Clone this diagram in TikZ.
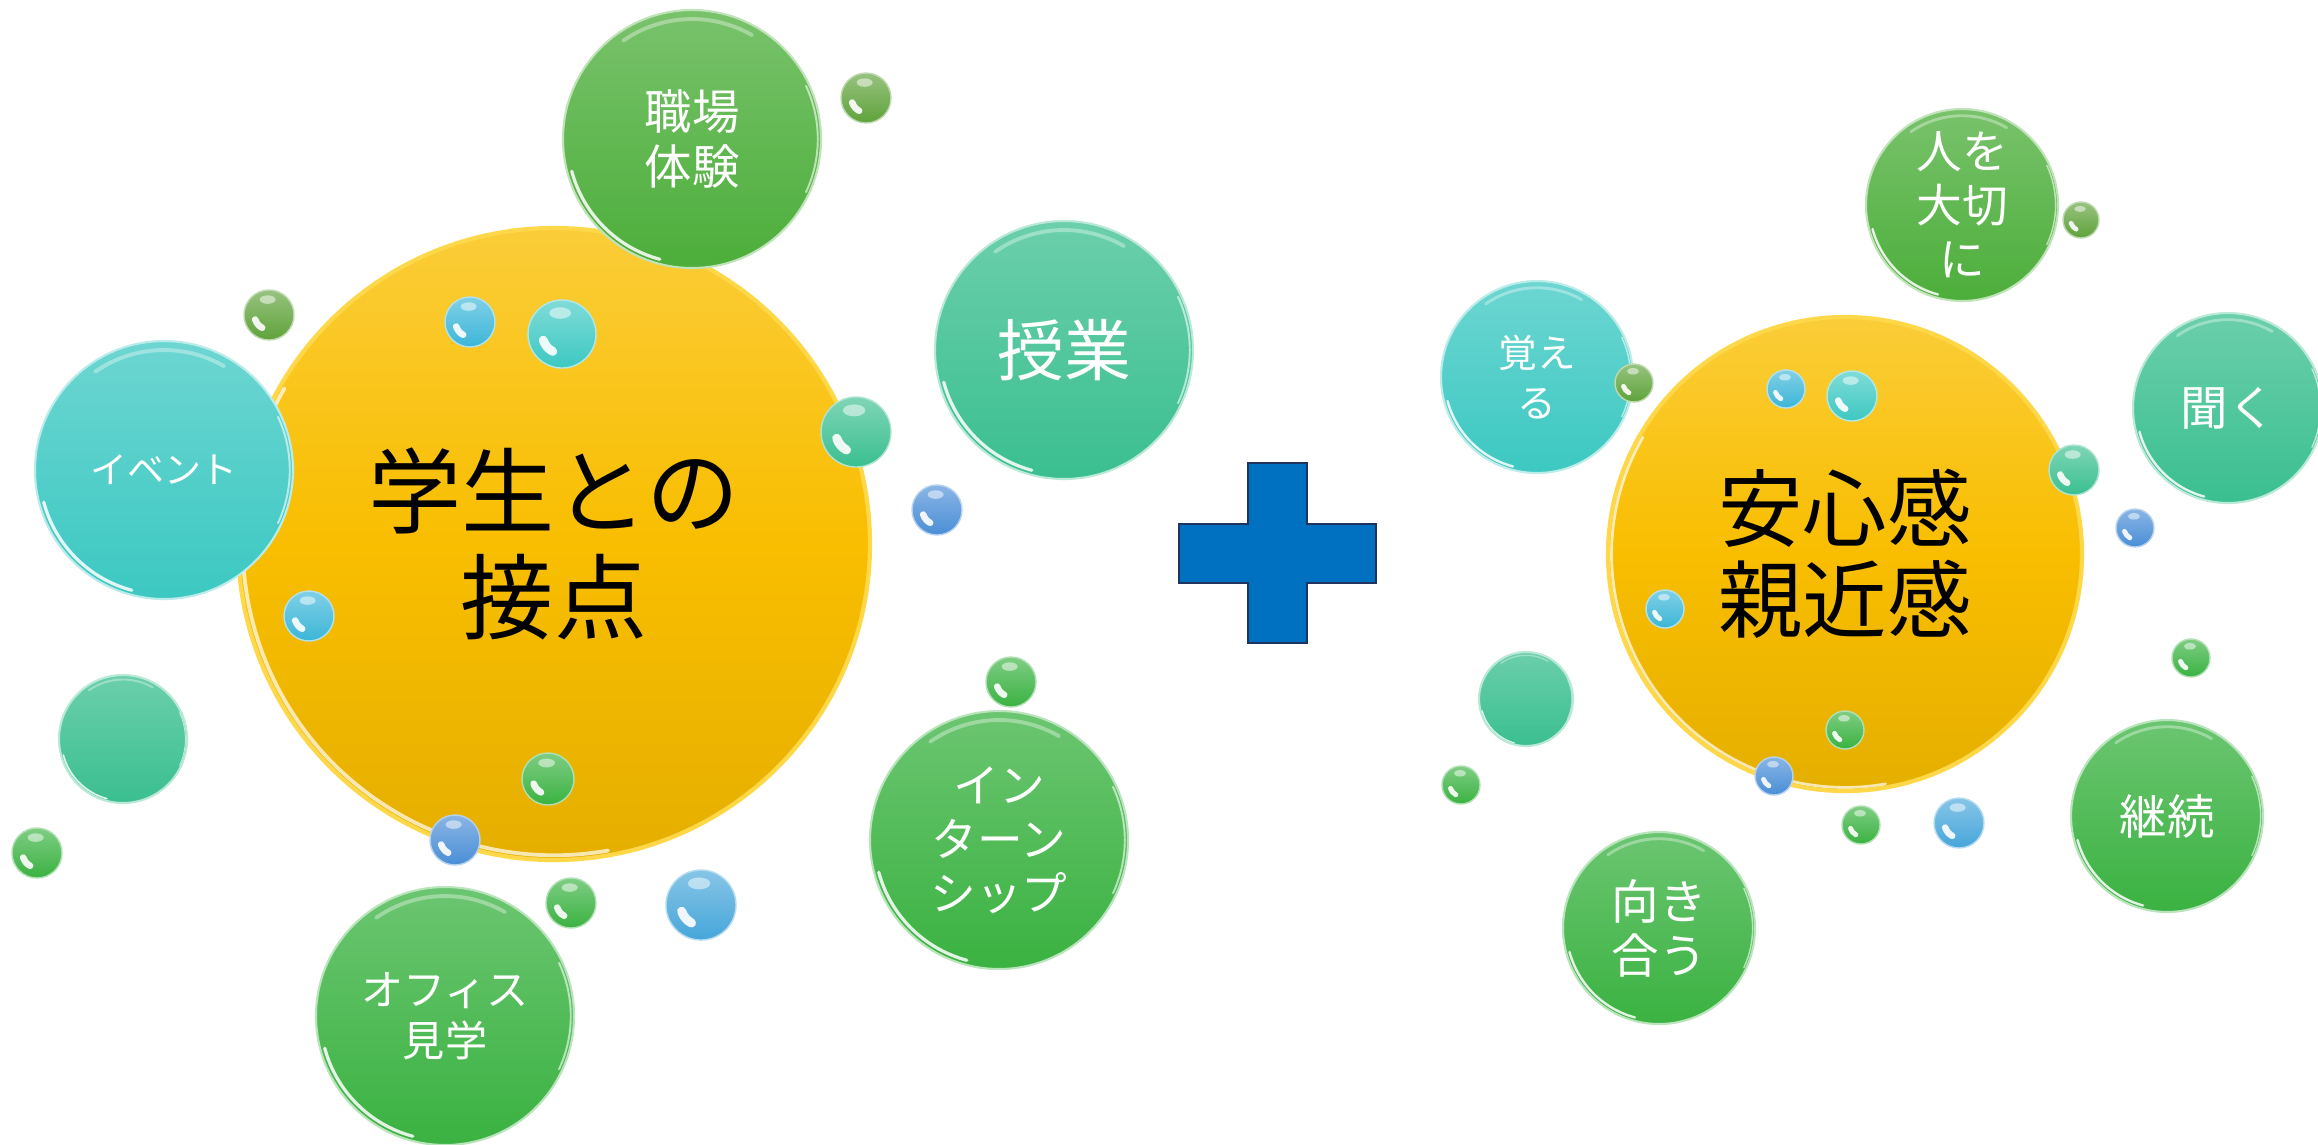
\documentclass[tikz,border=0pt]{standalone}
\usepackage{fontspec}
\newfontfamily\jp{Noto Sans CJK JP}
\usetikzlibrary{calc}
\definecolor{gold}{HTML}{F9BE00}
\definecolor{goldrim}{HTML}{FFD84A}
\definecolor{grn}{HTML}{3AB241}
\definecolor{leaf}{HTML}{4CAE3A}
\definecolor{teal}{HTML}{3CC8C2}
\definecolor{mint}{HTML}{3ABF90}
\definecolor{olive}{HTML}{5FA23A}
\definecolor{blu}{HTML}{4A8ED6}
\definecolor{cyan}{HTML}{3CB6D8}
\definecolor{sky}{HTML}{46A6DA}
\definecolor{plusblue}{HTML}{0070C0}
\definecolor{navy}{HTML}{1F3460}

\begin{document}
\begin{tikzpicture}[x=0.01cm, y=-0.01cm,
    shell/.style 2 args={circle, inner sep=0pt, align=center, text=white,
      minimum size={2*#2*0.01cm}, draw=#1!35!white, line width=0.6pt,
      top color=#1!75!white, bottom color=#1,
      path picture={
        \draw[white, opacity=.35, line width={#2*0.03*0.01cm}, line cap=round]
          ($(path picture bounding box.center)+(60:{#2*0.93*0.01cm})$)
          arc[start angle=60, end angle=125, radius={#2*0.93*0.01cm}];
        \draw[white, opacity=.6, line width={#2*0.015*0.01cm}, line cap=round]
          ($(path picture bounding box.center)+(-25:{#2*0.975*0.01cm})$)
          arc[start angle=-25, end angle=25, radius={#2*0.975*0.01cm}];
        \draw[white, opacity=.85, line width={#2*0.025*0.01cm}, line cap=round]
          ($(path picture bounding box.center)+(195:{#2*0.965*0.01cm})$)
          arc[start angle=195, end angle=255, radius={#2*0.965*0.01cm}];}},
    spot/.style 2 args={circle, inner sep=0pt, minimum size={2*#2*0.01cm},
      draw=#1!40!white, line width=0.4pt, top color=#1!65!white, bottom color=#1,
      path picture={
        \fill[white, opacity=.5] ($(path picture bounding box.center)+(95:{#2*0.62*0.01cm})$)
          ellipse[x radius={#2*0.32*0.01cm}, y radius={#2*0.17*0.01cm}];
        \draw[white, opacity=.9, line width={#2*0.26*0.01cm}, line cap=round]
          ($(path picture bounding box.center)+(198:{#2*0.58*0.01cm})$)
          arc[start angle=198, end angle=242, radius={#2*0.58*0.01cm}];}},
    sun/.style={circle, inner sep=0pt, align=center, text=black,
      minimum size={2*#1*0.01cm}, draw=goldrim, line width=1.2pt,
      top color=gold!78!white, bottom color=gold!92!black, middle color=gold,
      path picture={
        \draw[white, opacity=.7, line width={#1*0.012*0.01cm}, line cap=round]
          ($(path picture bounding box.center)+(150:{#1*0.985*0.01cm})$)
          arc[start angle=150, end angle=280, radius={#1*0.985*0.01cm}];}}]
\useasboundingbox (0,0) rectangle (2318,1144);

% left cluster
\node[sun=316, font=\jp\fontsize{26.5}{30}\selectfont] (contact) at (554,544) {学生との\\接点};
\node[shell={leaf}{129}, font=\jp\fontsize{13.5}{15.6}\selectfont] (shokuba) at (692,139) {職場\\体験};
\node[shell={mint}{129}, font=\jp\fontsize{19}{22}\selectfont] (jugyo) at (1064,350) {授業};
\node[shell={teal}{129}, font=\jp\fontsize{10.5}{13}\selectfont] (event) at (164,470) {イベント};
\node[shell={grn}{129}, font=\jp\fontsize{13}{15.4}\selectfont] (intern) at (999,840) {イン\\ターン\\シップ};
\node[shell={grn}{129}, font=\jp\fontsize{12}{14.5}\selectfont] (office) at (445,1016) {オフィス\\見学};
\node[shell={mint}{64}] (lmid) at (123,739) {};
\foreach \x/\y/\r/\col [count=\i] in {269/315/25/olive, 470/322/25/cyan, 562/334/34/teal,
    856/432/35/mint, 937/510/25/blu, 309/616/25/cyan, 548/779/26/grn, 455/840/25/blu,
    571/903/25/grn, 701/905/35/sky, 1011/682/25/grn, 37/853/25/grn, 866/98/25/olive}
  \node[spot={\col}{\r}] (l\i) at (\x,\y) {};

% plus
\draw[fill=plusblue, draw=navy, line width=0.6pt] (1248,463) -| (1307,524) -| (1376,583)
  -| (1307,643) -| (1248,583) -| (1179,524) -| (1248,524) -- cycle;

% right cluster
\node[sun=237, font=\jp\fontsize{24}{26}\selectfont] (trust) at (1845,554) {安心感\\親近感};
\node[shell={leaf}{96}, font=\jp\fontsize{13}{15.4}\selectfont] (taisetsu) at (1962,205) {人を\\大切\\に};
\node[shell={teal}{96}, font=\jp\fontsize{11}{14}\selectfont] (oboe) at (1537,377) {覚え\\る};
\node[shell={mint}{95}, font=\jp\fontsize{13.5}{16}\selectfont] (kiku) at (2228,408) {聞く};
\node[shell={grn}{96}, font=\jp\fontsize{13.5}{16}\selectfont] (keizoku) at (2167,816) {継続};
\node[shell={grn}{96}, font=\jp\fontsize{13.5}{15.4}\selectfont] (mukiau) at (1659,928) {向き\\合う};
\node[shell={mint}{47}] (rmid) at (1526,699) {};
\foreach \x/\y/\r/\col [count=\i] in {1634/383/19/olive, 1786/389/19/cyan, 1852/396/25/teal,
    2074/470/25/mint, 2135/528/19/blu, 2081/220/18/olive, 1665/609/19/cyan, 2191/658/19/grn,
    1845/730/19/grn, 1774/776/19/blu, 1861/825/19/grn, 1959/823/25/sky, 1461/785/19/grn}
  \node[spot={\col}{\r}] (r\i) at (\x,\y) {};
\end{tikzpicture}
\end{document}
